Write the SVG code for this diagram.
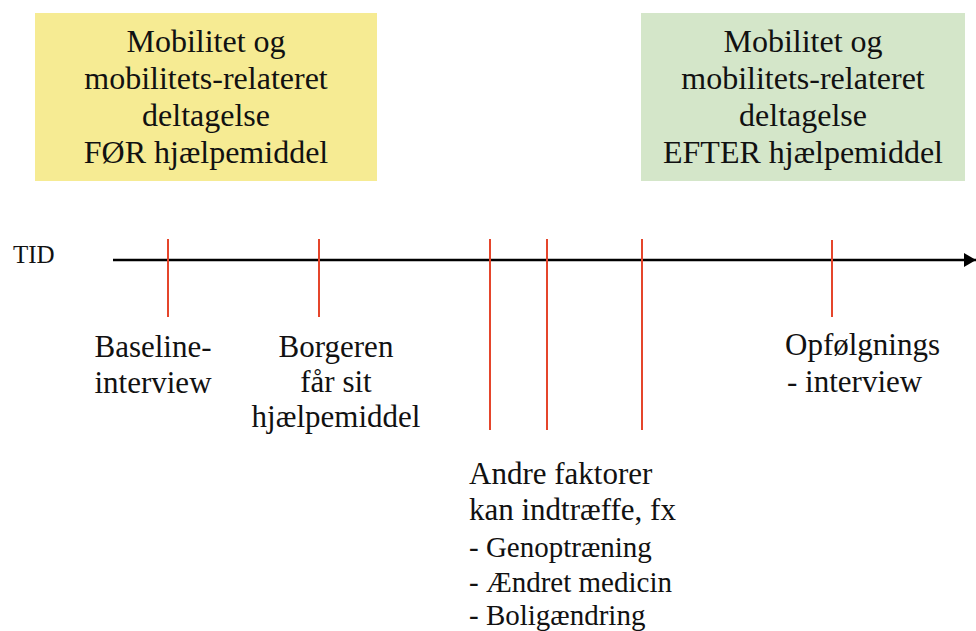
<svg xmlns="http://www.w3.org/2000/svg" width="976" height="631" viewBox="0 0 976 631">
<defs>
<style>
text{font-family:"Liberation Serif","Times New Roman",serif;fill:#111;}
.box{font-size:32px;text-anchor:middle;}
.lbl{font-size:31px;}
.mid{text-anchor:middle;}
.item{font-size:29px;}
.tick{stroke:#e5452b;stroke-width:2;}
</style>
<marker id="arr" markerWidth="12" markerHeight="14" refX="12" refY="7" orient="auto" markerUnits="userSpaceOnUse">
<path d="M0,0 L12,7 L0,14 z" fill="#000"/>
</marker>
</defs>
<rect width="976" height="631" fill="#fff"/>
<g id="before">
<rect x="35" y="13" width="342" height="168" fill="#f6eb93"/>
<text class="box" x="206" y="52">Mobilitet og</text>
<text class="box" x="206" y="89">mobilitets-relateret</text>
<text class="box" x="206" y="126">deltagelse</text>
<text class="box" x="206" y="163">FØR hjælpemiddel</text>
</g>
<g id="after">
<rect x="641" y="13" width="324" height="168" fill="#d4e6c9"/>
<text class="box" x="803" y="52">Mobilitet og</text>
<text class="box" x="803" y="89">mobilitets-relateret</text>
<text class="box" x="803" y="126">deltagelse</text>
<text class="box" x="803" y="163">EFTER hjælpemiddel</text>
</g>
<g id="connectors">
<line x1="113" y1="260" x2="976" y2="260" stroke="#000" stroke-width="2.5" marker-end="url(#arr)"/>
<line class="tick" x1="168" y1="239" x2="168" y2="317"/>
<line class="tick" x1="319" y1="239" x2="319" y2="317"/>
<line class="tick" x1="490" y1="239" x2="490" y2="430"/>
<line class="tick" x1="547" y1="239" x2="547" y2="430"/>
<line class="tick" x1="642" y1="239" x2="642" y2="430"/>
<line class="tick" x1="832" y1="240" x2="832" y2="317"/>
</g>
<g id="tid">
<text x="13" y="263" style="font-size:25px">TID</text>
</g>
<g id="baseline">
<text class="lbl mid" x="153" y="357">Baseline-</text>
<text class="lbl mid" x="153" y="393">interview</text>
</g>
<g id="borgeren">
<text class="lbl mid" x="336" y="357">Borgeren</text>
<text class="lbl mid" x="336" y="392">får sit</text>
<text class="lbl mid" x="336" y="427">hjælpemiddel</text>
</g>
<g id="opfoelgning">
<text class="lbl" x="785" y="355">Opfølgnings</text>
<text class="lbl" x="787" y="392">- interview</text>
</g>
<g id="andre">
<text class="lbl" x="469" y="484">Andre faktorer</text>
<text class="lbl" x="469" y="520">kan indtræffe, fx</text>
<text class="item" x="469" y="557">- Genoptræning</text>
<text class="item" x="469" y="592">- Ændret medicin</text>
<text class="item" x="469" y="625">- Boligændring</text>
</g>
</svg>
